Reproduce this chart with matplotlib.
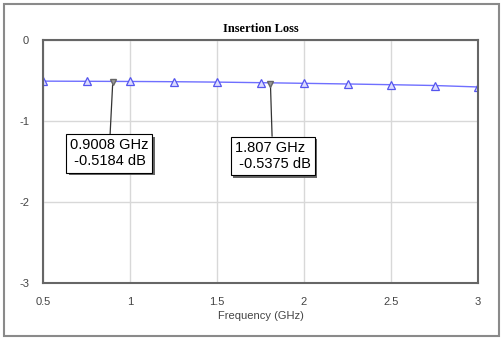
import matplotlib.pyplot as plt
import matplotlib.patheffects as pe
from matplotlib.patches import Rectangle

freq = [0.5, 0.75, 1.0, 1.25, 1.5, 1.75, 2.0, 2.25, 2.5, 2.75, 3.0]
loss = [-0.508, -0.51, -0.512, -0.515, -0.52, -0.527, -0.535, -0.543, -0.552, -0.562, -0.58]

marker_f = [0.9008, 1.807]
marker_db = [-0.5184, -0.5375]
marker_labels = ["0.9008 GHz\n -0.5184 dB", "1.807 GHz\n -0.5375 dB"]
label_pos = [(0.88, -1.40), (1.82, -1.43)]

xticks = [0.5, 1, 1.5, 2, 2.5, 3]
xticklabels = ["0.5", "1", "1.5", "2", "2.5", "3"]
yticks = [0, -1, -2, -3]

plt.rcParams['font.family'] = ['Liberation Sans', 'DejaVu Sans']
plt.rcParams['axes.unicode_minus'] = False

fig = plt.figure(figsize=(5.02, 3.38), dpi=100)
ax = fig.add_axes([0.0857, 0.1627, 0.8665, 0.719])

# outer frame
fig.patches.append(Rectangle((4 / 502, 2 / 338), 495 / 502, 332 / 338,
                             transform=fig.transFigure, fill=False,
                             edgecolor='#8a8a8a', linewidth=1.5))

ax.plot(freq, loss, color='#6f6fff', linewidth=1.0, marker='^', markersize=6,
        markerfacecolor='#dcdcff', markeredgecolor='#5555ee', markeredgewidth=0.9)
ax.plot(marker_f, marker_db, linestyle='none', marker='v', markersize=5,
        markerfacecolor='#9a9a9a', markeredgecolor='#666666', zorder=5)

for f, db, txt, pos in zip(marker_f, marker_db, marker_labels, label_pos):
    ann = ax.annotate(txt, xy=(f, db), xytext=pos, ha='center', va='center',
                      multialignment='left', fontsize=10.5, color='black',
                      bbox=dict(boxstyle='square,pad=0.28', facecolor='white',
                                edgecolor='black', linewidth=0.8),
                      arrowprops=dict(arrowstyle='-', color='#333333', linewidth=0.9,
                                      shrinkA=0, shrinkB=2))
    ann.get_bbox_patch().set_path_effects([
        pe.SimplePatchShadow(offset=(2, -2), shadow_rgbFace='#555555', alpha=0.9),
        pe.Normal()])

ax.set_xlim(0.5, 3)
ax.set_ylim(-3, 0)
ax.set_xticks(xticks)
ax.set_xticklabels(xticklabels)
ax.set_yticks(yticks)
ax.grid(True, color='#d8d8d8', linewidth=1.0)
ax.set_axisbelow(True)
ax.tick_params(length=0, labelsize=8, colors='#444444', pad=10)
for s in ax.spines.values():
    s.set_color('#666666')
    s.set_linewidth(1.5)

ax.set_title("Insertion Loss", fontsize=9, fontweight='bold',
             family='Liberation Serif', pad=6)
ax.set_xlabel("Frequency (GHz)", fontsize=8, color='#444444', labelpad=3)

fig.savefig("out.png", dpi=100)
